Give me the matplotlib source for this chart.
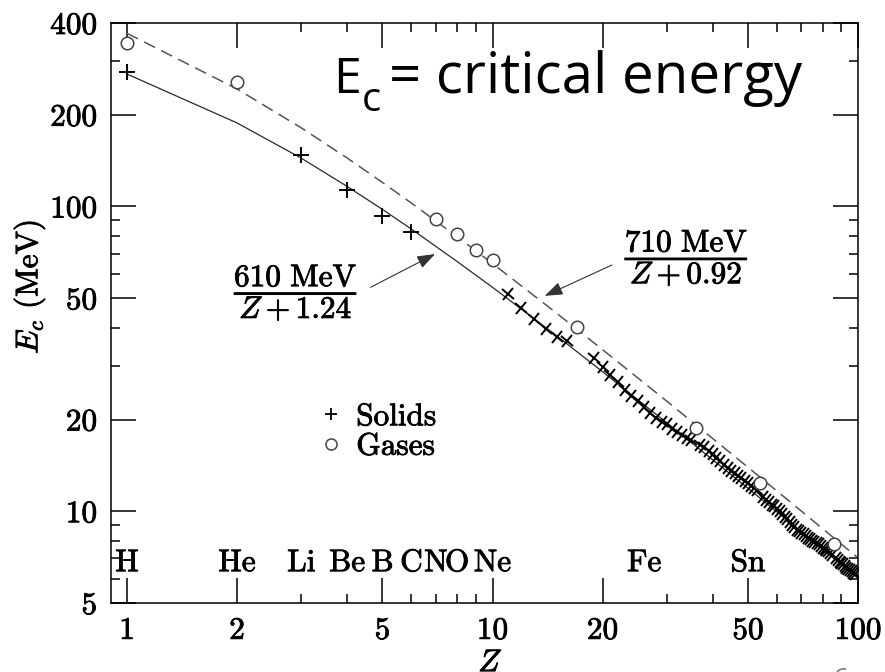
"""Critical energy vs Z, log-log, with the two Ec fits."""

import matplotlib
matplotlib.use("Agg")
import matplotlib.pyplot as plt
import matplotlib.patheffects as pe
from matplotlib.lines import Line2D
from matplotlib.markers import MarkerStyle
from matplotlib.transforms import Affine2D


# values
GAS_Z = [1, 2, 7, 8, 9, 10, 17, 36, 54, 86]
GAS_EC = [343, 256, 91.2, 81.5, 72.2, 66.5, 40.1, 18.8, 12.4, 7.8]

LIGHT_Z = [1, 3, 4, 5, 6]
LIGHT_EC = [277, 147, 113, 93, 82.5]

HEAVY_Z = (list(range(11, 17)) + list(range(19, 36)) + list(range(37, 54))
           + list(range(55, 86)) + list(range(87, 99)))
HEAVY_EC = [
    51.5, 46.4, 42.7, 39.6, 37.4, 36.1,
    31.9, 29.7, 28.0, 26.5, 25.0, 23.9, 23.0, 21.9, 21.0, 20.2, 19.6, 19.3,
    18.6, 18.2, 17.8, 17.4, 17.1,
    16.5, 16.2, 15.8, 15.4, 15.0, 14.6, 14.2, 13.9, 13.6, 13.4, 13.1, 12.9,
    12.6, 12.4, 12.1, 11.9, 11.7,
    11.1, 10.9, 10.7, 10.5, 10.4, 10.2, 10.0, 9.8, 9.6, 9.4, 9.2, 9.0, 8.85,
    8.7, 8.6, 8.5, 8.4, 8.3, 8.2, 8.1, 8.0, 7.9, 7.85, 7.78, 7.7, 7.6, 7.5,
    7.45, 7.4, 7.3, 7.2,
    7.0, 6.9, 6.8, 6.75, 6.7, 6.6, 6.5, 6.45, 6.4, 6.35, 6.28, 6.22,
]

FIT_Z = [1, 2, 3, 4, 5, 6, 8, 10, 15, 20, 30, 50, 70, 100]
SOLID_FIT = [272, 188, 144, 116.4, 97.8, 84.3, 66.0, 54.3, 37.6, 28.7, 19.5,
             11.9, 8.56, 6.02]
GAS_FIT = [370, 243, 181, 144.3, 119.9, 102.6, 79.6, 65.0, 44.6, 33.9, 22.96,
           13.94, 10.01, 7.03]

ELEMENTS = ["H", "He", "Li", "Be", "B", "C", "N", "O", "Ne", "Fe", "Sn"]
ELEMENT_Z = [1, 2, 3, 4, 5, 6, 7, 8, 10, 26, 50]

X_MAJOR = [1, 2, 5, 10, 20, 50, 100]
X_MINOR = [3, 4, 6, 7, 8, 9, 30, 40, 60, 70, 80, 90]
Y_MAJOR = [5, 10, 20, 50, 100, 200, 400]
Y_MINOR = [6, 7, 8, 9, 30, 40, 60, 70, 80, 90, 300]

FS = 22.5
INK = [pe.withStroke(linewidth=0.6, foreground="black")]

plt.rcParams.update({
    "font.family": "serif",
    "font.serif": ["cmr10"],
    "mathtext.fontset": "cm",
    "axes.unicode_minus": False,
    "axes.linewidth": 1.1,
})

fig = plt.figure(figsize=(8.85, 6.72), dpi=100)
ax = fig.add_axes([111 / 885, 1 - 603 / 672, 747 / 885, 580 / 672])
ax.set_xscale("log")
ax.set_yscale("log")
ax.set_xlim(0.904, 100)
ax.set_ylim(5, 400)

ax.plot(FIT_Z, SOLID_FIT, color="#2a2a2a", lw=0.9, zorder=2)
ax.plot(FIT_Z, GAS_FIT, color="#555555", lw=1.1, dashes=(8, 4.5), zorder=2)

ax.plot(LIGHT_Z, LIGHT_EC, ls="none", marker="+", ms=11, mew=1.4,
        color="black", zorder=3)
tilted = MarkerStyle("+", transform=Affine2D().rotate_deg(-39))
ax.plot(HEAVY_Z, HEAVY_EC, ls="none", marker=tilted, ms=10.5, mew=1.4,
        color="black", zorder=3)
ax.plot(GAS_Z, GAS_EC, ls="none", marker="o", ms=9, mew=1.1, mfc="white",
        mec="#444444", zorder=4)

for name, z in zip(ELEMENTS, ELEMENT_Z):
    ax.text(z, 6.36, name, ha="center", va="baseline", fontsize=FS,
            path_effects=INK)

ax.set_xticks(X_MAJOR, [str(v) for v in X_MAJOR], fontsize=FS)
ax.set_xticks(X_MINOR, minor=True)
ax.set_yticks(Y_MAJOR, [str(v) for v in Y_MAJOR], fontsize=FS)
ax.set_yticks(Y_MINOR, minor=True)
ax.xaxis.set_minor_formatter(plt.NullFormatter())
ax.yaxis.set_minor_formatter(plt.NullFormatter())
ax.tick_params(which="both", direction="in", top=True, right=True, width=1.1)
ax.tick_params(which="major", length=18, pad=10)
ax.tick_params(which="minor", length=6.5)
for lab in ax.get_xticklabels() + ax.get_yticklabels():
    lab.set_path_effects(INK)

ax.set_xlabel("$Z$", fontsize=FS, path_effects=INK)
ax.xaxis.set_label_coords(0.508, -0.080)
ax.set_ylabel("$E_c$ (MeV)", fontsize=FS, path_effects=INK)
ax.yaxis.set_label_coords(-0.085, 0.545)

handles = [
    Line2D([], [], ls="none", marker="+", ms=8.5, mew=1.3, color="black"),
    Line2D([], [], ls="none", marker="o", ms=8, mew=1.1, mfc="white",
           mec="#444444"),
]
leg = ax.legend(handles, ["Solids", "Gases"], loc="upper left",
                bbox_to_anchor=(0.253, 0.382), frameon=False, fontsize=FS,
                handlelength=0.6, handletextpad=0.5, labelspacing=0.05,
                borderpad=0.2)
for t in leg.get_texts():
    t.set_path_effects(INK)

arrow = dict(arrowstyle="-|>,head_length=0.55,head_width=0.2",
             mutation_scale=20, color="#333333", lw=0.8, shrinkA=8, shrinkB=0)
ax.annotate(r"$\dfrac{610\ \mathrm{MeV}}{Z+1.24}$", xy=(6.96, 69.8),
            xytext=(2.90, 51.7), ha="center", va="center", fontsize=FS,
            path_effects=INK, arrowprops=dict(arrow, relpos=(1.0, 0.5)))
ax.annotate(r"$\dfrac{710\ \mathrm{MeV}}{Z+0.92}$", xy=(13.9, 50.9),
            xytext=(34.0, 67.2), ha="center", va="center", fontsize=FS,
            path_effects=INK, arrowprops=dict(arrow, relpos=(0.0, 0.5)))

# slide title, drawn in pixel coordinates (origin bottom-left), pieces chained
TITLE_SIZE = 36
title_kw = dict(family="Open Sans", color="black", va="baseline",
                transform=None)
renderer = fig.canvas.get_renderer()
e_txt = fig.text(333, 672 - 93, "E", fontsize=TITLE_SIZE, **title_kw)
x = e_txt.get_window_extent(renderer).x1 + 1
c_txt = fig.text(x, 672 - 111, "c", fontsize=TITLE_SIZE * 0.8, **title_kw)
x = c_txt.get_window_extent(renderer).x1 + 8
rest = fig.text(x, 672 - 93, "= critical energy", fontsize=TITLE_SIZE,
                **title_kw)
width = rest.get_window_extent(renderer).width
rest.set_fontsize(TITLE_SIZE * (801 - x) / width)
fig.text(832, 5, "6", fontsize=20, family="Open Sans", color="#8a8a8a",
         va="top", transform=None)

fig.savefig("out.png", dpi=100)
